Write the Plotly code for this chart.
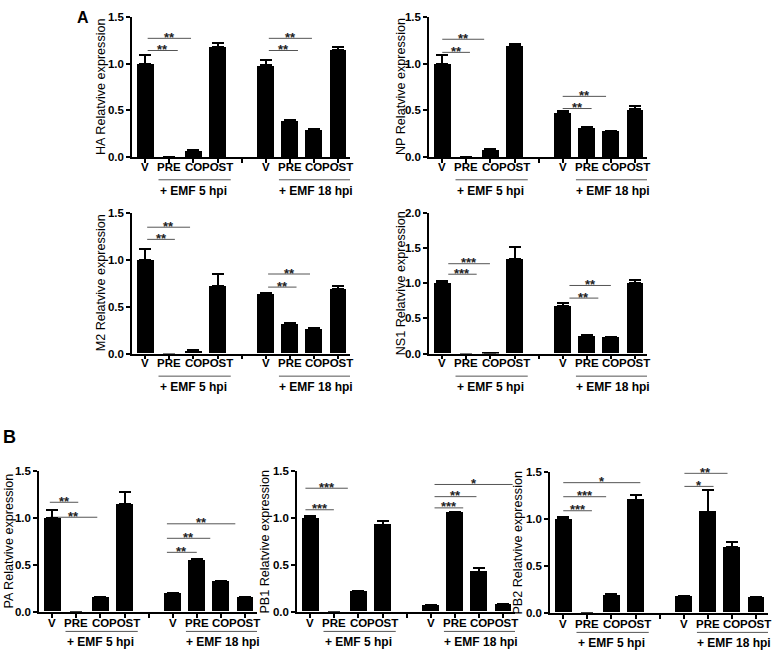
import plotly.graph_objects as go

W, H = 774, 660
FONT = "Arial, Liberation Sans, sans-serif"

categories = ["V", "PRE", "CO", "POST", "", "V", "PRE", "CO", "POST"]
x_pos = list(range(len(categories)))
group_labels = ["+ EMF 5 hpi", "+ EMF 18 hpi"]

# ---- data (value, error) per gene ----
ha_values = [1.00, 0.0, 0.07, 1.18, None, 0.98, 0.39, 0.29, 1.15]
ha_errors = [0.09, None, 0.005, 0.04, None, 0.06, 0.01, 0.01, 0.03]
np_values = [1.00, 0.0, 0.08, 1.19, None, 0.47, 0.31, 0.28, 0.51]
np_errors = [0.09, None, 0.005, 0.02, None, 0.02, 0.01, 0.005, 0.04]
m2_values = [1.00, 0.0, 0.03, 0.72, None, 0.64, 0.31, 0.26, 0.69]
m2_errors = [0.12, None, 0.005, 0.13, None, 0.01, 0.02, 0.01, 0.03]
ns1_values = [1.00, 0.0, 0.01, 1.35, None, 0.68, 0.25, 0.23, 1.00]
ns1_errors = [0.04, None, 0.005, 0.17, None, 0.04, 0.01, 0.005, 0.05]
pa_values = [1.00, 0.0, 0.15, 1.15, None, 0.20, 0.55, 0.32, 0.15]
pa_errors = [0.09, None, 0.005, 0.13, None, 0.005, 0.01, 0.01, 0.01]
pb1_values = [1.00, 0.0, 0.22, 0.93, None, 0.07, 1.06, 0.43, 0.08]
pb1_errors = [0.02, None, 0.005, 0.04, None, 0.005, 0.01, 0.04, 0.005]
pb2_values = [1.00, 0.0, 0.19, 1.21, None, 0.17, 1.08, 0.70, 0.16]
pb2_errors = [0.02, None, 0.01, 0.05, None, 0.01, 0.23, 0.06, 0.005]

# significance comparisons: (x_from, x_to, height, label)
ha_sig = [(0.1, 1.35, 1.14, "**"), (0.1, 1.9, 1.27, "**"),
          (5.13, 6.34, 1.14, "**"), (5.13, 6.92, 1.27, "**")]
np_sig = [(0.0, 1.15, 1.12, "**"), (0.0, 1.74, 1.26, "**"),
          (5.0, 6.2, 0.52, "**"), (5.0, 6.8, 0.65, "**")]
m2_sig = [(0.08, 1.23, 1.22, "**"), (0.08, 1.86, 1.35, "**"),
          (5.1, 6.28, 0.71, "**"), (5.1, 6.84, 0.85, "**")]
ns1_sig = [(0.25, 1.43, 1.13, "***"), (0.25, 1.98, 1.28, "***"),
           (5.28, 6.48, 0.79, "**"), (5.28, 7.0, 0.97, "**")]
pa_sig = [(-0.1, 1.08, 1.17, "**"), (-0.1, 1.87, 1.01, "**"),
          (4.76, 6.0, 0.635, "**"), (4.76, 6.56, 0.785, "**"), (4.76, 7.6, 0.94, "**")]
pb1_sig = [(-0.2, 0.98, 1.09, "***"), (-0.2, 1.56, 1.32, "***"),
           (5.16, 6.35, 1.11, "***"), (5.16, 6.9, 1.23, "**"), (5.16, 8.4, 1.36, "*")]
pb2_sig = [(0.0, 1.19, 1.09, "***"), (0.0, 1.78, 1.24, "***"), (0.0, 3.2, 1.39, "*"),
           (5.03, 6.24, 1.35, "*"), (5.03, 6.82, 1.49, "**")]

# panel layout in pixels: name, values, errors, sig, ymax, left, right, top, bottom, title_x, row
panels = [
    ("HA", ha_values, ha_errors, ha_sig, 1.5, 132, 350, 11, 154, 101, "top"),
    ("NP", np_values, np_errors, np_sig, 1.5, 429, 647, 11, 154, 401, "top"),
    ("M2", m2_values, m2_errors, m2_sig, 1.5, 132, 350, 211, 354, 101, "top"),
    ("NS1", ns1_values, ns1_errors, ns1_sig, 2.0, 429, 647, 211, 354, 401, "top"),
    ("PA", pa_values, pa_errors, pa_sig, 1.5, 39, 257, 474, 617, 9, "bottom"),
    ("PB1", pb1_values, pb1_errors, pb1_sig, 1.5, 297, 515, 474, 617, 265, "bottom"),
    ("PB2", pb2_values, pb2_errors, pb2_sig, 1.5, 550, 768, 475, 618, 518, "bottom"),
]

fig = go.Figure()
layout = dict(width=W, height=H, margin=dict(l=0, r=0, t=0, b=0),
              plot_bgcolor="white", paper_bgcolor="white", showlegend=False,
              font=dict(family=FONT, color="black"))
shapes, annotations = [], []

def px_x(p):
    return p / W

def px_y(p):
    return 1 - p / H

for i, (name, vals, errs, sig, ymax, l, r, t, b, tx, row) in enumerate(panels, start=1):
    xa = "x" if i == 1 else f"x{i}"
    ya = "y" if i == 1 else f"y{i}"
    fig.add_trace(go.Bar(
        x=x_pos, y=vals, xaxis=xa, yaxis=ya, width=0.7,
        marker=dict(color="black", line=dict(width=0)),
        error_y=dict(type="data", array=errs, arrayminus=[0] * len(errs), symmetric=False,
                     color="black", thickness=2, width=6),
        hoverinfo="skip"))
    xkey = "xaxis" if i == 1 else f"xaxis{i}"
    ykey = "yaxis" if i == 1 else f"yaxis{i}"
    yt = [k * 0.5 for k in range(int(ymax / 0.5) + 1)]
    layout[xkey] = dict(domain=[px_x(l), px_x(r)], range=[-0.55, 8.5], anchor=ya,
                        tickvals=x_pos, showticklabels=False,
                        ticks="outside", ticklen=4, tickwidth=1.5, tickcolor="black",
                        showline=True, linewidth=1.5, linecolor="black",
                        showgrid=False, zeroline=False)
    layout[ykey] = dict(domain=[px_y(b), px_y(t)], range=[0, ymax], anchor=xa,
                        tickvals=yt, ticktext=[f"{v:.1f}" for v in yt],
                        ticks="outside", ticklen=4, tickwidth=1.5, tickcolor="black",
                        showline=True, linewidth=1.5, linecolor="black",
                        showgrid=False, zeroline=False,
                        tickfont=dict(family=FONT, size=11.5, color="black", weight="bold"))
    lab_off, line_off, text_off = (10, 23, 34) if row == "top" else (11, 20, 31)
    # category labels
    for xi, cat in zip(x_pos, categories):
        if cat:
            annotations.append(dict(text=cat, xref=xa, yref="paper", x=xi, y=px_y(b + lab_off),
                                    showarrow=False, xanchor="center", yanchor="middle",
                                    font=dict(family=FONT, size=11.5, color="black", weight="bold")))
    # y title
    annotations.append(dict(text=f"{name} Relatvive expression", xref="paper", yref="paper",
                            x=px_x(tx), y=px_y((t + b) / 2), textangle=-90,
                            showarrow=False, xanchor="center", yanchor="middle",
                            font=dict(family=FONT, size=12.6, color="black")))
    # significance brackets
    for (x0, x1, yv, lab) in sig:
        shapes.append(dict(type="line", xref=xa, yref=ya, x0=x0, x1=x1, y0=yv, y1=yv,
                           line=dict(color="#555555", width=1), layer="below"))
        annotations.append(dict(text=lab, xref=xa, yref=ya, x=(x0 + x1) / 2, y=yv,
                                showarrow=False, xanchor="center", yanchor="middle", yshift=1,
                                font=dict(family=FONT, size=13, color="#222222", weight="bold")))
    # group underline + labels
    for (g0, g1, gc), lab in zip([(0.55, 3.55, 2.0), (5.55, 8.58, 7.07)], group_labels):
        shapes.append(dict(type="line", xref=xa, yref="paper", x0=g0, x1=g1,
                           y0=px_y(b + line_off), y1=px_y(b + line_off),
                           line=dict(color="#555555", width=1)))
        annotations.append(dict(text=lab, xref=xa, yref="paper", x=gc, y=px_y(b + text_off),
                                showarrow=False, xanchor="center", yanchor="middle",
                                font=dict(family=FONT, size=12, color="black", weight="bold")))

annotations.append(dict(text="A", xref="paper", yref="paper", x=px_x(83), y=px_y(12),
                        showarrow=False, xanchor="center", yanchor="middle",
                        font=dict(family=FONT, size=16, color="black", weight="bold")))
annotations.append(dict(text="B", xref="paper", yref="paper", x=px_x(9), y=px_y(439),
                        showarrow=False, xanchor="center", yanchor="middle",
                        font=dict(family=FONT, size=18, color="black", weight="bold")))

layout["shapes"] = shapes
layout["annotations"] = annotations
layout["bargap"] = 0
fig.update_layout(**layout)
fig.write_html("out.html", config={"displayModeBar": False},
               post_script="document.body.style.margin='0';document.body.style.overflow='hidden';")
